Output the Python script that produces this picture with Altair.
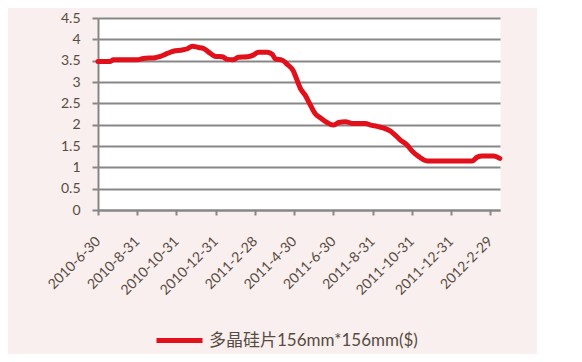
import altair as alt
import pandas as pd

months = [0, 0.63, 0.78, 2.0, 2.31, 2.92, 3.18, 3.54, 3.84, 4.30, 4.56, 4.81, 5.12,
          5.37, 5.73, 5.99, 6.34, 6.6, 6.9, 7.16, 7.62, 7.92, 8.18, 8.64, 8.89, 9.04,
          9.4, 9.66, 9.96, 10.07, 10.32, 10.58, 10.83, 11.09, 11.34, 11.68, 11.99,
          12.28, 12.62, 12.96, 13.64, 13.9, 14.23, 14.91, 15.17, 15.42, 15.77, 16.02,
          16.36, 16.79, 19.08, 19.34, 19.59, 20.18, 20.49]
prices = [3.48, 3.48, 3.52, 3.52, 3.55, 3.57, 3.60, 3.67, 3.72, 3.75, 3.78, 3.84, 3.81,
          3.79, 3.67, 3.60, 3.59, 3.53, 3.52, 3.58, 3.59, 3.63, 3.70, 3.70, 3.65, 3.54,
          3.51, 3.41, 3.26, 3.14, 2.85, 2.68, 2.46, 2.25, 2.16, 2.05, 1.99,
          2.05, 2.07, 2.03, 2.03, 1.99, 1.96, 1.85, 1.75, 1.64, 1.52, 1.38,
          1.25, 1.15, 1.15, 1.24, 1.265, 1.265, 1.21]
tick_labels = ["2010-6-30", "2010-8-31", "2010-10-31", "2010-12-31", "2011-2-28",
               "2011-4-30", "2011-6-30", "2011-8-31", "2011-10-31", "2011-12-31",
               "2012-2-29"]
tick_positions = [0, 2, 4, 6, 8, 10, 12, 14, 16, 18, 20]
y_ticks = [0, 0.5, 1, 1.5, 2, 2.5, 3, 3.5, 4, 4.5]
series_name = "多晶硅片156mm*156mm($)"

df = pd.DataFrame({"m": months, "price": prices, "series": series_name})
label_arr = "[" + ",".join(f"'{s}'" for s in tick_labels) + "]"

font = "Lato, Noto Sans CJK SC, sans-serif"
text_color = "#574c41"
grid_color = "#878787"

chart = alt.Chart(df).mark_line(
    strokeWidth=5, strokeCap="round", strokeJoin="round", interpolate="monotone"
).encode(
    x=alt.X("m:Q", scale=alt.Scale(domain=[0, 20.5], nice=False, zero=False),
            axis=alt.Axis(values=tick_positions,
                          labelExpr=f"{label_arr}[round(datum.value/2)]",
                          labelAngle=-45, labelAlign="right", labelBaseline="middle",
                          labelPadding=24, tickSize=5, tickWidth=2,
                          tickColor=grid_color,
                          domainColor=grid_color, domainWidth=2, grid=False, title=None,
                          labelFont=font, labelFontSize=14, labelColor=text_color,
                          labelOverlap=False, labelFlush=False, labelBound=False)),
    y=alt.Y("price:Q", scale=alt.Scale(domain=[0, 4.5], nice=False),
            axis=alt.Axis(values=y_ticks, format="~g", tickSize=6, tickWidth=2,
                          tickColor=grid_color, labelPadding=12, grid=True,
                          gridColor=grid_color, gridWidth=2, domainColor=grid_color,
                          domainWidth=2, title=None, labelFont=font, labelFontSize=14,
                          labelColor=text_color)),
    color=alt.Color("series:N", scale=alt.Scale(range=["#e1101b"]),
                    legend=alt.Legend(orient="none", legendX=56, legendY=297, title=None,
                                      symbolType="stroke", symbolSize=2116,
                                      symbolStrokeWidth=5, labelFontSize=17,
                                      labelFont=font, labelColor=text_color,
                                      labelLimit=400, padding=0, labelOffset=4))
).properties(
    width=402, height=192, background="#f9efef",
    padding={"left": 90, "top": 10, "right": 37, "bottom": 144},
    autosize=alt.AutoSizeParams(type="none")
).configure_view(fill="white", strokeOpacity=0)

chart.save("out.html", embed_options={"renderer": "svg", "actions": False})
